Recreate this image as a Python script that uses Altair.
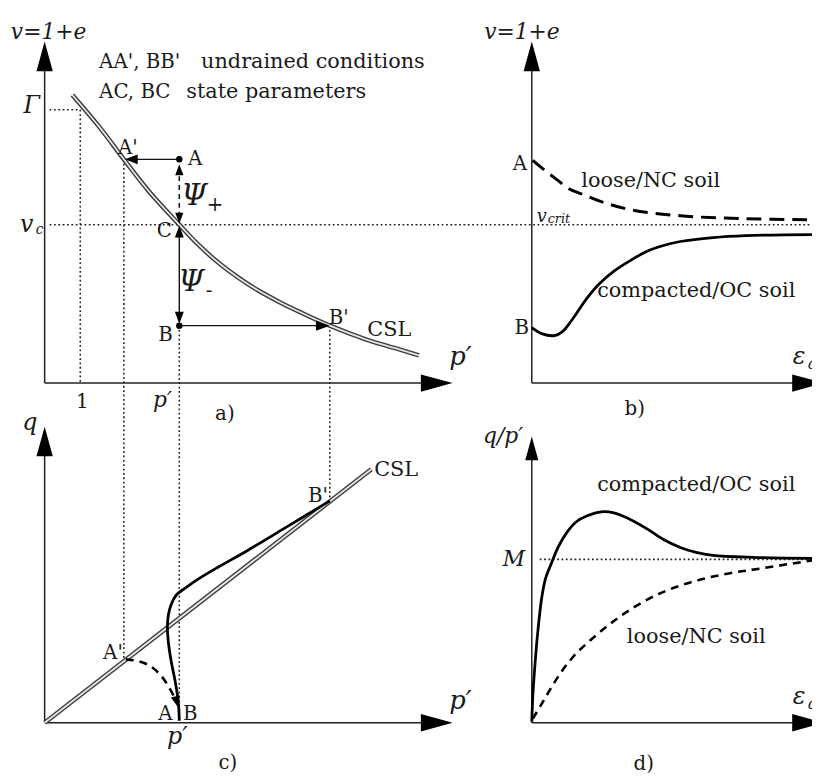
import altair as alt
import pandas as pd

# ---------------- panel a) : v = 1+e  vs  p'  (figure coordinates, y downward)
csl_a_x = [73, 100, 125, 150, 181, 200, 220, 240, 260, 280, 300, 333, 370, 400, 423]
csl_a_y = [92, 124, 157, 189, 223, 243, 261, 276, 289, 300, 310, 325, 339, 348, 355]

# ---------------- panel b) : v vs eps_q
loose_b_x = [538, 550, 563, 575, 590, 605, 637, 687, 753, 820]
loose_b_y = [158, 168, 178, 187, 193, 199, 208, 214, 217, 218]
dense_b_x = [537, 547, 560, 568, 577, 593, 605, 620, 637, 653, 670, 687, 720, 753, 820]
dense_b_y = [327, 333, 335, 331, 320, 297, 283, 270, 259, 250, 244, 240, 236, 234, 233]

# ---------------- panel c) : q vs p'
csl_c_x = [45, 375]
csl_c_y = [726, 470]
pathB_c_x = [181, 180, 177, 173, 170, 169, 170, 173, 178, 187, 200, 220, 250, 290, 333]
pathB_c_y = [724, 705, 685, 665, 645, 630, 617, 606, 597, 590, 581, 569, 552, 528, 502]
pathA_c_x = [127, 140, 152, 163, 171, 177]
pathA_c_y = [662, 664, 669, 679, 691, 702]

# ---------------- panel d) : q/p' vs eps_q
dense_d_x = [537, 538, 540, 543, 547, 551, 556, 564, 573, 582, 593, 607, 620, 633, 653, 670, 687, 703, 720, 760, 820]
dense_d_y = [725, 700, 670, 635, 600, 580, 567, 548, 533, 523, 517, 513, 514, 519, 530, 541, 549, 554, 557, 559, 560]
loose_d_x = [538, 547, 557, 568, 581, 597, 615, 633, 655, 677, 705, 737, 770, 820]
loose_d_y = [722, 707, 690, 673, 657, 642, 627, 614, 601, 591, 582, 575, 570, 562]

# ---------------- axes (start/end) of the four panels
axes_x = {"a_y": [45, 45], "a_x": [45, 430], "b_y": [537, 537], "b_x": [537, 805],
          "c_y": [45, 45], "c_x": [45, 430], "d_y": [537, 537], "d_x": [537, 805]}
axes_y = {"a_y": [383, 62], "a_x": [383, 383], "b_y": [383, 62], "b_x": [383, 383],
          "c_y": [726, 452], "c_x": [726, 726], "d_y": [726, 455], "d_x": [726, 726]}

# ---------------- guide (dotted) lines
dot_x = {"gamma_h": [50, 81], "gamma_v": [81, 81], "vc": [50, 820], "Aprime": [125, 125],
         "Bv": [181, 181], "Bprime": [333, 333], "M": [545, 820]}
dot_y = {"gamma_h": [107, 107], "gamma_v": [107, 383], "vc": [223, 223], "Aprime": [157, 662],
         "Bv": [325, 726], "Bprime": [325, 502], "M": [561, 561]}

# ---------------- state arrows in panel a
arr_x = {"AA": [181, 135], "BB": [181, 322], "psi_minus": [181, 181]}
arr_y = {"AA": [157, 157], "BB": [325, 325], "psi_minus": [228, 318]}
psi_plus_x = [181, 181]
psi_plus_y = [165, 218]

# points A and B
pts_x = [181, 181]
pts_y = [157, 325]

# arrow heads: tip x, tip y, angle (0 = up, clockwise), length
head_big_x = [45, 457, 537, 832, 45, 457, 537, 832]
head_big_y = [38, 383, 38, 383, 427, 726, 437, 726]
head_big_a = [0, 90, 0, 90, 0, 90, 0, 90]
head_big_l = [30, 32, 30, 32, 30, 32, 24, 32]
head_small_x = [126, 333, 181, 181, 181, 181, 180]
head_small_y = [157, 325, 162, 222, 224, 323, 711]
head_small_a = [270, 90, 0, 180, 0, 180, 165]
head_small_l = [13, 14, 11, 11, 12, 12, 12]

# ---------------- texts
txt_c_labels = ["C", "A", "A'", "B", "B'", "CSL", "1", "a)", "CSL", "B'", "A'", "A", "B", "c)",
                "A", "B", "b)", "d)"]
txt_c_x = [166, 197, 129, 167, 342, 393, 83, 227, 400, 321, 114, 167, 192, 230, 525, 527, 641, 650]
txt_c_y = [229, 157, 146, 334, 317, 329, 402, 414, 471, 497, 656, 717, 717, 767, 162, 327, 409, 768]
txt_c_s = [20, 20, 20, 20, 20, 21, 20, 20, 21, 20, 20, 20, 20, 20, 20, 20, 20, 20]

txt_i_labels = ["v=1+e", "v=1+e", "Γ", "v", "c", "Ψ", "+", "Ψ", "-", "p′", "p′", "q", "p′", "p′",
                "v", "ε", "q/p′", "M", "ε"]
txt_i_x = [49, 527, 32, 27, 40, 196, 217, 193, 211, 465, 164, 30, 179, 465, 547, 807, 508, 519, 807]
txt_i_y = [28, 28, 103, 223, 228, 194, 203, 281, 290, 357, 400, 423, 740, 704, 215, 357, 437, 561, 700]
txt_i_s = [22, 22, 24, 24, 14, 30, 20, 30, 20, 26, 22, 24, 24, 26, 18, 24, 22, 22, 24]

txt_l_labels = ["AA', BB'", "undrained conditions", "AC, BC", "state parameters",
                "loose/NC soil", "compacted/OC soil", "compacted/OC soil", "loose/NC soil"]
txt_l_x = [100, 203, 100, 188, 587, 603, 603, 633]
txt_l_y = [59, 59, 89, 89, 179, 290, 486, 639]
txt_l_s = [20, 21, 20, 21, 21, 21, 21, 21]

txt_li_labels = ["crit", "q", "q"]
txt_li_x = [553, 815, 815]
txt_li_y = [217, 364, 707]
txt_li_s = [13, 16, 16]

# ======================================================================
W, H = 812, 770
X = alt.X("x:Q", scale=alt.Scale(domain=[8, 820], nice=False, zero=False), axis=None)
Y = alt.Y("y:Q", scale=alt.Scale(domain=[8, 778], nice=False, zero=False, reverse=True), axis=None)


def paths(dx, dy):
    rows = []
    for k in dx:
        for i, (a, b) in enumerate(zip(dx[k], dy[k])):
            rows.append({"name": k, "o": i, "x": a, "y": b})
    return pd.DataFrame(rows)


def line(df, width, color="#111", dash=None, interp="linear"):
    kw = dict(strokeWidth=width, color=color, clip=True, interpolate=interp, strokeCap="butt")
    if dash:
        kw["strokeDash"] = dash
    return alt.Chart(df).mark_line(**kw).encode(x=X, y=Y, detail="name:N", order="o:Q")


layers = []
# dotted guides
layers.append(line(paths(dot_x, dot_y), 1.6, "#222", [1.8, 2.6]))
# axes
layers.append(line(paths(axes_x, axes_y), 1.5, "#222"))
# CSL double lines
csl = paths({"a": csl_a_x, "c": csl_c_x}, {"a": csl_a_y, "c": csl_c_y})
layers.append(line(csl, 4.6, "#3a3a3a", interp="catmull-rom"))
layers.append(line(csl, 1.8, "#e6e6e6", interp="catmull-rom"))
# state arrows
layers.append(line(paths(arr_x, arr_y), 1.4, "#111"))
layers.append(line(paths({"p": psi_plus_x}, {"p": psi_plus_y}), 1.6, "#111", [5, 4]))
# curves
layers.append(line(paths({"b": dense_b_x, "d": dense_d_x, "c": pathB_c_x},
                         {"b": dense_b_y, "d": dense_d_y, "c": pathB_c_y}), 2.8, "#000",
                   interp="catmull-rom"))
layers.append(line(paths({"b": loose_b_x}, {"b": loose_b_y}), 3.0, "#000", [15, 8],
                   interp="catmull-rom"))
layers.append(line(paths({"d": loose_d_x, "c": pathA_c_x}, {"d": loose_d_y, "c": pathA_c_y}),
                   2.6, "#000", [8, 6], interp="catmull-rom"))

# points A, B
layers.append(alt.Chart(pd.DataFrame({"x": pts_x, "y": pts_y})).mark_circle(
    size=42, color="#000", opacity=1, clip=True).encode(x=X, y=Y))

# arrow heads
big = pd.DataFrame({"x": head_big_x, "y": head_big_y, "a": head_big_a,
                    "s": [l * l for l in head_big_l]})
small = pd.DataFrame({"x": head_small_x, "y": head_small_y, "a": head_small_a,
                      "s": [l * l for l in head_small_l]})
layers.append(alt.Chart(big).mark_point(
    shape="M0,0 L0.55,2 L-0.55,2 Z", filled=True, color="#000", opacity=1, strokeWidth=0,
    clip=True).encode(x=X, y=Y, angle=alt.Angle("a:Q", scale=None), size=alt.Size("s:Q", scale=None)))
layers.append(alt.Chart(small).mark_point(
    shape="M0,0 L0.75,2 L-0.75,2 Z", filled=True, color="#000", opacity=1, strokeWidth=0,
    clip=True).encode(x=X, y=Y, angle=alt.Angle("a:Q", scale=None), size=alt.Size("s:Q", scale=None)))


def texts(labels, xs, ys, ss, italic=False, align="center"):
    df = pd.DataFrame({"t": labels, "x": xs, "y": ys, "s": ss})
    kw = dict(font="DejaVu Serif", align=align, baseline="middle", color="#1a1a1a", clip=True)
    if italic:
        kw["fontStyle"] = "italic"
    return alt.Chart(df).mark_text(**kw).encode(
        x=X, y=Y, text="t:N", size=alt.Size("s:Q", scale=None))


layers.append(texts(txt_c_labels, txt_c_x, txt_c_y, txt_c_s))
layers.append(texts(txt_i_labels, txt_i_x, txt_i_y, txt_i_s, italic=True))
layers.append(texts(txt_l_labels, txt_l_x, txt_l_y, txt_l_s, align="left"))
layers.append(texts(txt_li_labels, txt_li_x, txt_li_y, txt_li_s, italic=True, align="left"))

chart = alt.layer(*layers).properties(
    width=W, height=H, padding=0, autosize=alt.AutoSizeParams(type="none"),
    background="white"
).configure_view(stroke=None)

chart.save("out.html", embed_options={"renderer": "svg", "actions": False})
